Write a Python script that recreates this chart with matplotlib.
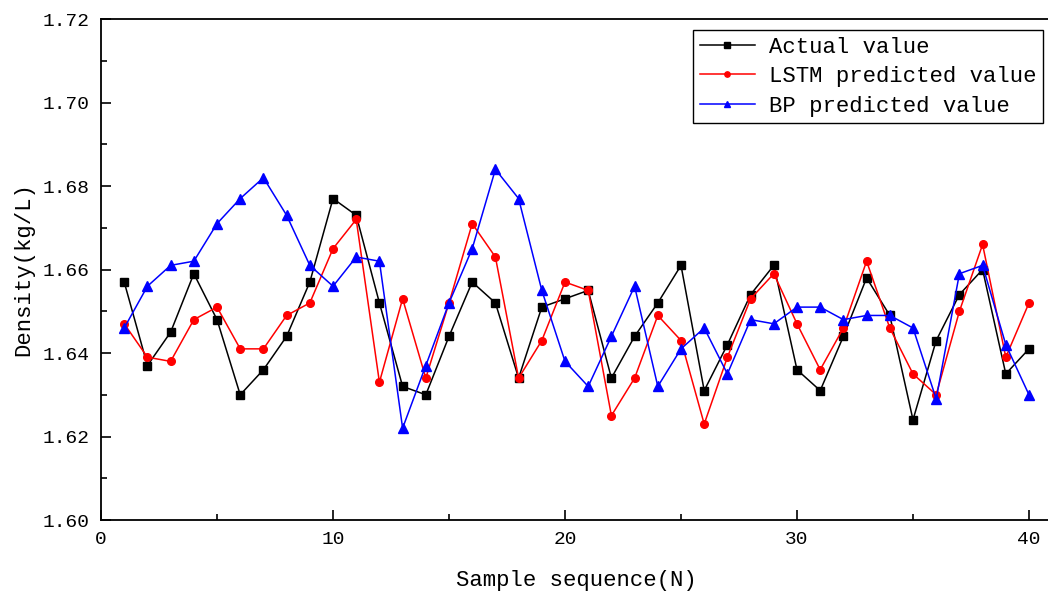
import numpy as np
import matplotlib
import matplotlib.pyplot as plt
from matplotlib.ticker import MultipleLocator

matplotlib.use("Agg")

# Data
samples = list(range(1, 41))
actual = [1.657, 1.637, 1.645, 1.659, 1.648, 1.630, 1.636, 1.644, 1.657, 1.677,
          1.673, 1.652, 1.632, 1.630, 1.644, 1.657, 1.652, 1.634, 1.651, 1.653,
          1.655, 1.634, 1.644, 1.652, 1.661, 1.631, 1.642, 1.654, 1.661, 1.636,
          1.631, 1.644, 1.658, 1.649, 1.624, 1.643, 1.654, 1.660, 1.635, 1.641]
lstm = [1.647, 1.639, 1.638, 1.648, 1.651, 1.641, 1.641, 1.649, 1.652, 1.665,
        1.672, 1.633, 1.653, 1.634, 1.652, 1.671, 1.663, 1.634, 1.643, 1.657,
        1.655, 1.625, 1.634, 1.649, 1.643, 1.623, 1.639, 1.653, 1.659, 1.647,
        1.636, 1.646, 1.662, 1.646, 1.635, 1.630, 1.650, 1.666, 1.639, 1.652]
bp = [1.646, 1.656, 1.661, 1.662, 1.671, 1.677, 1.682, 1.673, 1.661, 1.656,
      1.663, 1.662, 1.622, 1.637, 1.652, 1.665, 1.684, 1.677, 1.655, 1.638,
      1.632, 1.644, 1.656, 1.632, 1.641, 1.646, 1.635, 1.648, 1.647, 1.651,
      1.651, 1.648, 1.649, 1.649, 1.646, 1.629, 1.659, 1.661, 1.642, 1.630]
labels = ["Actual value", "LSTM predicted value", "BP predicted value"]

FONT = "Liberation Mono"
plt.rcParams["font.family"] = FONT

fig = plt.figure(figsize=(10.48, 5.96), dpi=100)
ax = fig.add_axes([0.0964, 0.1275, 0.9076, 0.8405])

ax.plot(samples, actual, color="black", lw=1.1, marker="s", ms=5.5, label=labels[0])
ax.plot(samples, lstm, color="red", lw=1.1, marker="o", ms=5.5, label=labels[1])
ax.plot(samples, bp, color="blue", lw=1.1, marker="^", ms=6.5, label=labels[2])

ax.set_xlim(0, 41)
ax.set_ylim(1.60, 1.72)
ax.xaxis.set_major_locator(MultipleLocator(10))
ax.xaxis.set_minor_locator(MultipleLocator(5))
ax.yaxis.set_major_locator(MultipleLocator(0.02))
ax.yaxis.set_minor_locator(MultipleLocator(0.01))
ax.yaxis.set_major_formatter(lambda v, p: f"{v:.2f}")
ax.tick_params(which="both", direction="in", width=1.2, labelsize=14, top=False, right=False)
ax.tick_params(which="major", length=7, pad=8)
ax.tick_params(which="minor", length=4)
ax.spines["right"].set_visible(False)
for s in ["left", "bottom", "top"]:
    ax.spines[s].set_linewidth(1.3)

ax.set_xlabel("Sample sequence(N)", fontsize=16, labelpad=16)
ax.set_ylabel("Density(kg/L)", fontsize=16, labelpad=6)

leg = ax.legend(loc="upper right", bbox_to_anchor=(0.990, 0.978), fontsize=16,
                frameon=True, fancybox=False, edgecolor="black", framealpha=1,
                handlelength=2.5, markerscale=0.7, borderpad=0.3, labelspacing=0.38,
                handletextpad=0.6, borderaxespad=0)
leg.get_frame().set_linewidth(1.0)

fig.savefig("out.png", dpi=100)
